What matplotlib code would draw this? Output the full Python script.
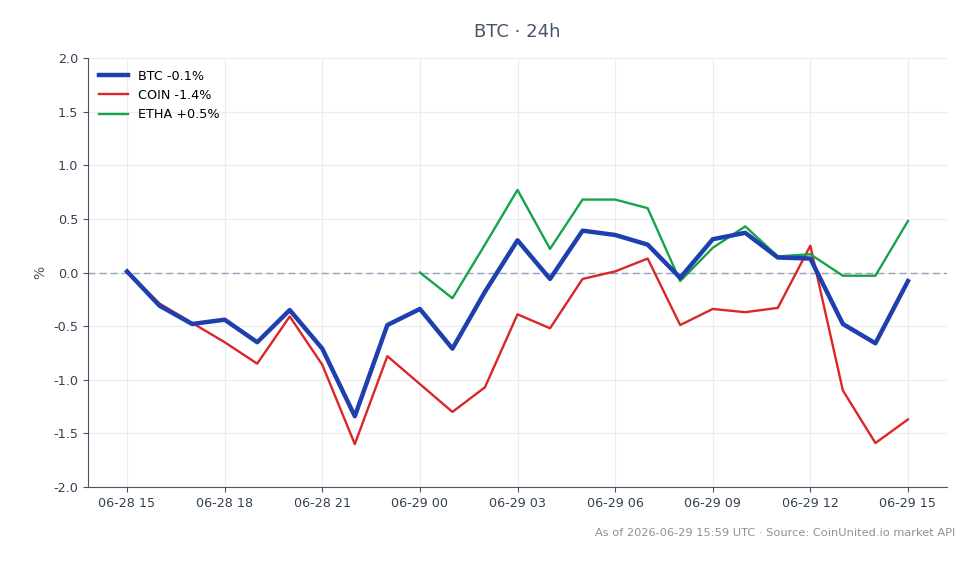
import matplotlib
matplotlib.use("Agg")
import matplotlib.pyplot as plt
import matplotlib.dates as mdates
import pandas as pd

hours = pd.date_range("2026-06-28 15:00", "2026-06-29 15:00", freq="h")

btc = [0.01, -0.31, -0.48, -0.44, -0.65, -0.35, -0.71, -1.34, -0.49, -0.34,
       -0.71, -0.18, 0.30, -0.06, 0.39, 0.35, 0.26, -0.05, 0.31, 0.37,
       0.14, 0.13, -0.48, -0.66, -0.08]
coin = [0.01, -0.29, -0.47, -0.65, -0.85, -0.41, -0.86, -1.60, -0.78, -1.04,
        -1.30, -1.07, -0.39, -0.52, -0.06, 0.01, 0.13, -0.49, -0.34, -0.37,
        -0.33, 0.25, -1.10, -1.59, -1.37]
etha_hours = hours[9:]
etha = [0.0, -0.24, 0.26, 0.77, 0.22, 0.68, 0.68, 0.60, -0.08, 0.23,
        0.43, 0.15, 0.17, -0.03, -0.03, 0.48]

labels = ["BTC -0.1%", "COIN -1.4%", "ETHA +0.5%"]
yticks = [-2.0, -1.5, -1.0, -0.5, 0.0, 0.5, 1.0, 1.5, 2.0]

fig = plt.figure(figsize=(9.79, 5.64), dpi=100)
ax = fig.add_axes([88/979, 1 - 487/564, (947-88)/979, (487-58)/564])

ax.axhline(0, color="#94a3b8", lw=1, ls=(0, (5, 3)), zorder=1)
ax.plot(hours, btc, color="#1e40af", lw=3.2, label=labels[0], zorder=4)
ax.plot(hours, coin, color="#dc2626", lw=1.7, label=labels[1], zorder=3)
ax.plot(etha_hours, etha, color="#16a34a", lw=1.7, label=labels[2], zorder=3)

ax.set_ylim(-2.0, 2.0)
ax.set_yticks(yticks)
ax.yaxis.set_major_formatter(plt.FormatStrFormatter("%.1f"))
ax.margins(x=0.05)
ax.xaxis.set_major_locator(mdates.HourLocator(byhour=range(0, 24, 3)))
ax.xaxis.set_major_formatter(mdates.DateFormatter("%m-%d %H"))

ax.grid(True, color="#e9ecf0", lw=0.8)
ax.set_axisbelow(True)
for s in ["top", "right"]:
    ax.spines[s].set_visible(False)
for s in ["left", "bottom"]:
    ax.spines[s].set_color("#475569")
ax.tick_params(colors="#475569", labelsize=9.2, labelcolor="#334155")
ax.set_ylabel("%", color="#475569", fontsize=10)

ax.legend(loc="upper left", frameon=False, fontsize=9.2, handlelength=2.2)

fig.text(0.528, 1 - 32/564, "BTC · 24h", ha="center", va="center",
         fontsize=13, color="#475569")
fig.text(955/979, 1 - 533/564, "As of 2026-06-29 15:59 UTC · Source: CoinUnited.io market API",
         ha="right", va="center", fontsize=8.2, color="#8a929c")

fig.savefig("out.png", dpi=100)
